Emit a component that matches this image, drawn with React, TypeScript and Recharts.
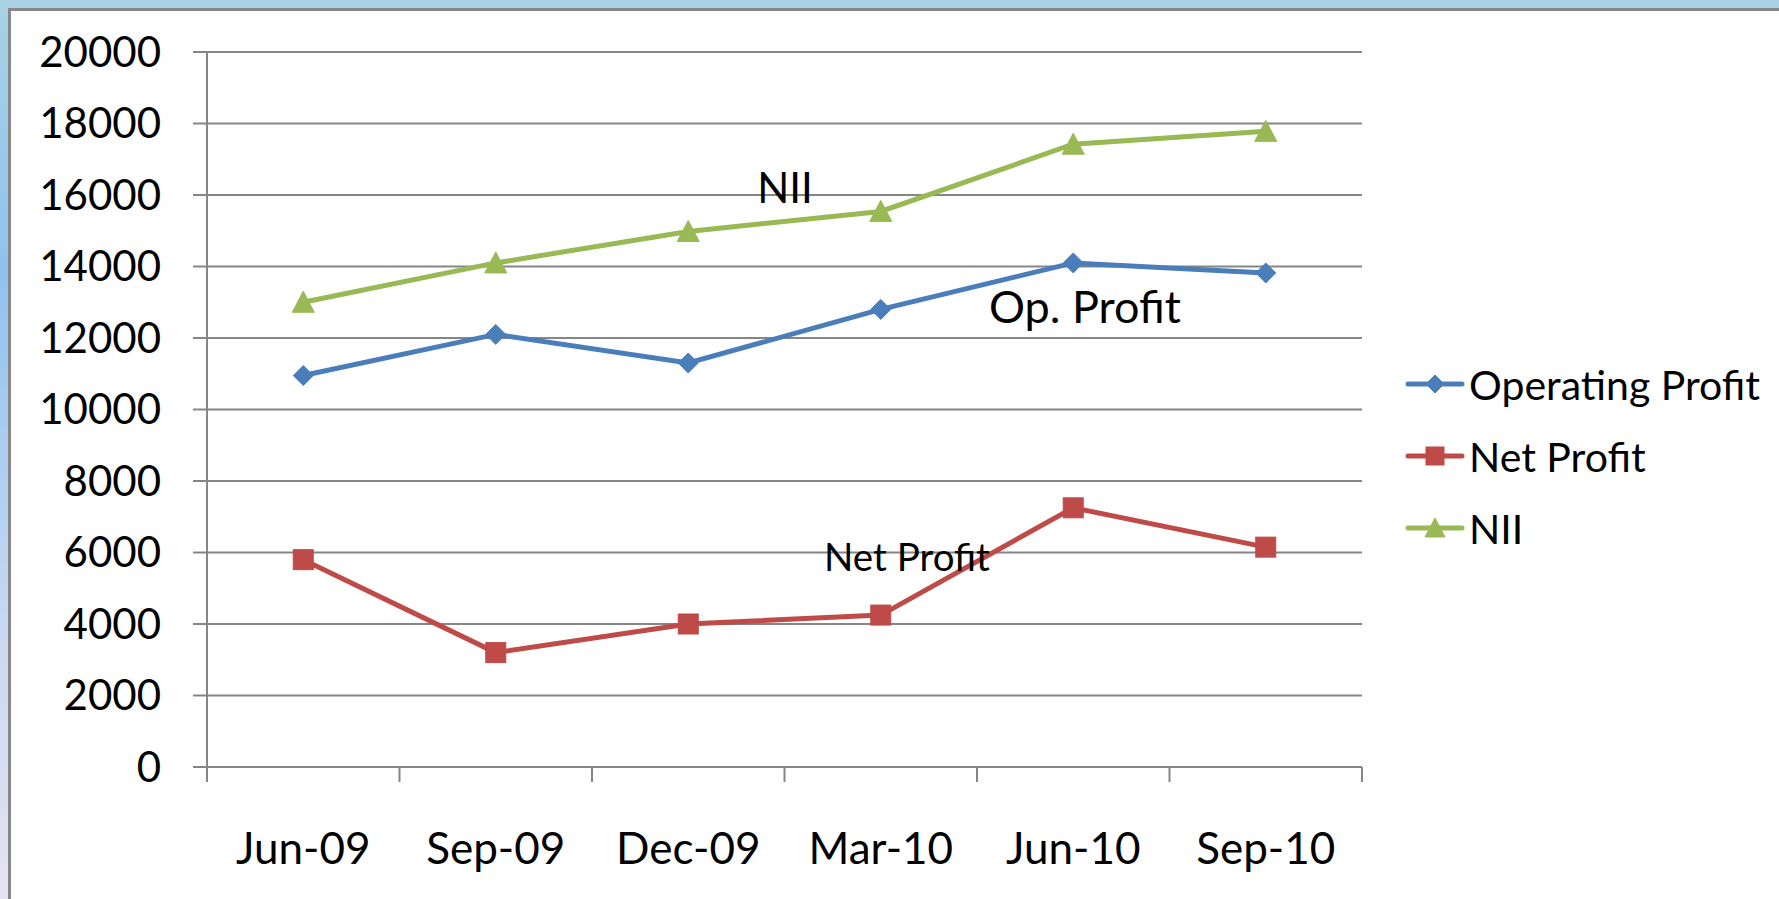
import React from "react";
import { LineChart, Line, XAxis, YAxis, CartesianGrid } from "recharts";

const categories = ["Jun-09", "Sep-09", "Dec-09", "Mar-10", "Jun-10", "Sep-10"];
const operatingProfit = [10950, 12100, 11300, 12800, 14100, 13820];
const netProfit = [5800, 3200, 4000, 4250, 7250, 6150];
const nii = [13000, 14100, 14980, 15540, 17420, 17780];
const yTicks = [0, 2000, 4000, 6000, 8000, 10000, 12000, 14000, 16000, 18000, 20000];

const series = [
  { key: "op", name: "Operating Profit", color: "#4A7EBB", shape: "diamond" },
  { key: "net", name: "Net Profit", color: "#BE4B48", shape: "square" },
  { key: "nii", name: "NII", color: "#98B954", shape: "triangle" },
];

const annotations = [
  { text: "NII", x: 785, y: 203, size: 42 },
  { text: "Op. Profit", x: 1085, y: 323, size: 45 },
  { text: "Net Profit", x: 907, y: 571, size: 38.5 },
];

const data = categories.map((c, i) => ({
  cat: c,
  op: operatingProfit[i],
  net: netProfit[i],
  nii: nii[i],
}));

const FONT = "Lato, 'Open Sans', sans-serif";
const GRID = "#868686";
const X_TICK_SIZE = 15;
const X_TICK_MARGIN = 51;

function Marker({ cx, cy, shape, color, s }: any) {
  if (cx == null || cy == null) return null;
  if (shape === "diamond") {
    return <polygon points={`${cx},${cy - s} ${cx + s},${cy} ${cx},${cy + s} ${cx - s},${cy}`} fill={color} stroke={color} strokeWidth={1} />;
  }
  if (shape === "square") {
    return <rect x={cx - s} y={cy - s} width={2 * s} height={2 * s} fill={color} stroke={color} strokeWidth={1} />;
  }
  return <polygon points={`${cx},${cy - s - 1} ${cx + s + 1},${cy + s} ${cx - s - 1},${cy + s}`} fill={color} stroke={color} strokeWidth={1} />;
}

function CatTick(props: any) {
  const { x, y, payload, index, visibleTicksCount, width } = props;
  const count = visibleTicksCount || categories.length;
  const step = (width || 1155) / count;
  const axisY = y - X_TICK_SIZE - X_TICK_MARGIN;
  const left = x - step / 2;
  const right = x + step / 2;
  return (
    <g>
      <line x1={left} y1={axisY} x2={left} y2={axisY + X_TICK_SIZE} stroke={GRID} strokeWidth={2} />
      {index === count - 1 && (
        <line x1={right} y1={axisY} x2={right} y2={axisY + X_TICK_SIZE} stroke={GRID} strokeWidth={2} />
      )}
      <text x={x} y={y} dy="0.71em" textAnchor="middle" fontSize={44} fontFamily={FONT} fill="#000">
        {payload.value}
      </text>
    </g>
  );
}

function LegendBox() {
  return (
    <div style={{ position: "absolute", left: 1405, top: 348, fontFamily: FONT }}>
      {series.map((s) => (
        <div key={s.key} style={{ display: "flex", alignItems: "center", height: 72 }}>
          <svg width={60} height={30} style={{ marginRight: 4 }}>
            <line x1={3} y1={15} x2={57} y2={15} stroke={s.color} strokeWidth={5} strokeLinecap="round" />
            <Marker cx={30} cy={15} shape={s.shape} color={s.color} s={9} />
          </svg>
          <span style={{ fontSize: 41, color: "#000", whiteSpace: "nowrap" }}>{s.name}</span>
        </div>
      ))}
    </div>
  );
}

export default function App() {
  return (
    <div
      style={{
        position: "absolute",
        left: 0,
        top: 0,
        width: 1779,
        height: 899,
        background: "linear-gradient(to bottom, #a8d2e2 0%, #8fc2ee 30%, #c8d8f0 70%, #e6e2f2 100%)",
        overflow: "hidden",
      }}
    >
      <div
        style={{
          position: "absolute",
          left: 8,
          top: 8,
          width: 1779,
          height: 899,
          background: "#fff",
          borderTop: "3px solid #888",
          borderLeft: "3px solid #888",
        }}
      />
      <div style={{ position: "absolute", left: 0, top: 0 }}>
        <LineChart
          width={1779}
          height={899}
          data={data}
          margin={{ top: 52, right: 417, bottom: 0, left: 0 }}
        >
          <CartesianGrid vertical={false} stroke={GRID} strokeWidth={2} />
          <XAxis
            dataKey="cat"
            scale="band"
            height={132}
            axisLine={{ stroke: GRID, strokeWidth: 2 }}
            tickLine={false}
            tickSize={X_TICK_SIZE}
            tickMargin={X_TICK_MARGIN}
            tick={<CatTick />}
            interval={0}
          />
          <YAxis
            domain={[0, 20000]}
            ticks={yTicks}
            width={207}
            axisLine={{ stroke: GRID, strokeWidth: 2 }}
            tickLine={{ stroke: GRID, strokeWidth: 2 }}
            tickSize={14}
            tickMargin={32}
            tick={{ fill: "#000", fontSize: 42, fontFamily: FONT }}
            interval={0}
          />
          {series.map((s) => (
            <Line
              key={s.key}
              dataKey={s.key}
              name={s.name}
              stroke={s.color}
              strokeWidth={5}
              isAnimationActive={false}
              dot={(p: any) => <Marker key={`${s.key}-${p.index}`} cx={p.cx} cy={p.cy} shape={s.shape} color={s.color} s={10} />}
              activeDot={false}
            />
          ))}
        </LineChart>
      </div>
      <LegendBox />
      <svg style={{ position: "absolute", left: 0, top: 0, pointerEvents: "none" }} width={1779} height={899}>
        {annotations.map((a) => (
          <text key={a.text} x={a.x} y={a.y} textAnchor="middle" fontSize={a.size} fontFamily={FONT} fill="#000">
            {a.text}
          </text>
        ))}
      </svg>
    </div>
  );
}
